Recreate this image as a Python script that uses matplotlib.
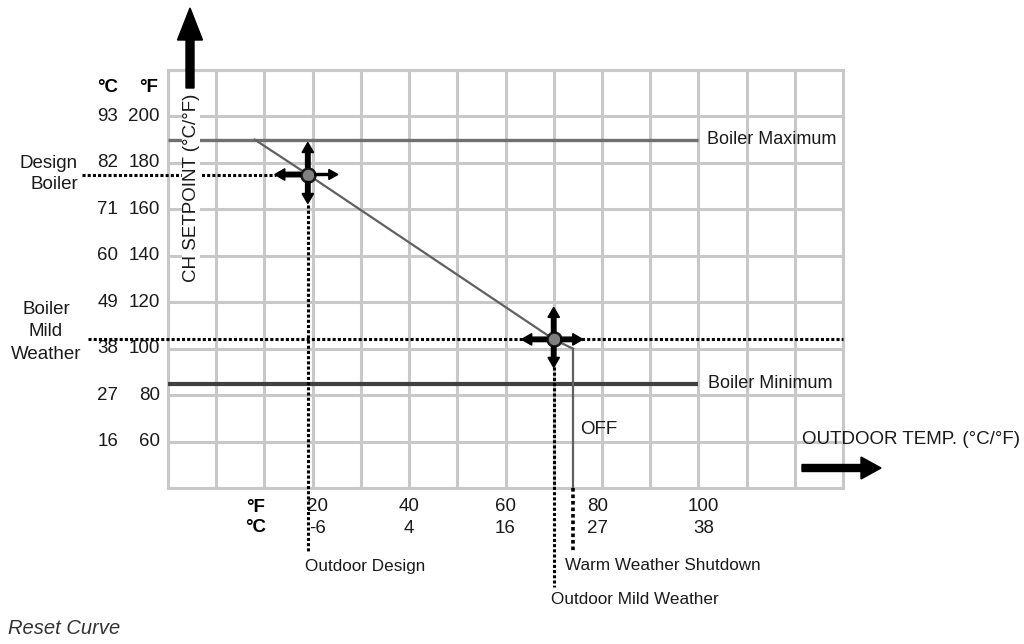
import matplotlib
matplotlib.use('Agg')
import matplotlib.pyplot as plt
from matplotlib.patches import FancyArrow
from matplotlib.transforms import IdentityTransform, offset_copy

plt.rcParams['font.family'] = ['Liberation Sans Narrow', 'Liberation Sans', 'DejaVu Sans']

# ---------------- data ----------------
x_ticks_f = [20, 40, 60, 80, 100]
x_ticks_c = [-6, 4, 16, 27, 38]
y_ticks_f = [60, 80, 100, 120, 140, 160, 180, 200]
y_ticks_c = [16, 27, 38, 49, 60, 71, 82, 93]
x_limits = [-10, 130]
y_limits = [40, 220]
boiler_max = 190
boiler_min = 85
limit_line_end = 100
curve_x = [8, 19, 70, 74]
curve_y = [190, 175, 104, 100]
design_point = (19, 175)
mild_point = (70, 104)
shutdown_x = 74
shutdown_y = 100

# layout-only nudges of the x tick labels (pixels)
x_label_nudge = [5, 0, 0, -4, 5]

W, H = 1024, 644
fig = plt.figure(figsize=(W / 100, H / 100), dpi=100)
ax = fig.add_axes([168 / W, 1 - 488 / H, 675 / W, 418 / H])
ax.set_xlim(x_limits)
ax.set_ylim(y_limits)
ax.set_xticks(range(x_limits[0], x_limits[1] + 1, 10))
ax.set_yticks(range(y_limits[0], y_limits[1] + 1, 20))
ax.tick_params(length=0, labelbottom=False, labelleft=False)
GRID = '#c8c8c8'
ax.grid(True, color=GRID, lw=2.2)
ax.set_axisbelow(True)
for s in ax.spines.values():
    s.set_color(GRID)
    s.set_linewidth(2.2)

FS = 13.5
TXT = '#1a1a1a'


def fx(px):
    return px / W


def fy(py):
    return 1 - py / H


# ---------------- lines ----------------
ax.plot([x_limits[0], limit_line_end], [boiler_max, boiler_max], color='#707070', lw=2.4,
        solid_capstyle='butt', zorder=3)
ax.plot([x_limits[0], limit_line_end], [boiler_min, boiler_min], color='#404040', lw=3.0,
        solid_capstyle='butt', zorder=3)
ax.plot(curve_x, curve_y, color='#606060', lw=1.6, zorder=3)
ax.plot([shutdown_x, shutdown_x], [shutdown_y, y_limits[0]], color='#606060', lw=1.6, zorder=3)
ax.plot([shutdown_x, shutdown_x], [y_limits[0], 13], color='black', lw=2.6, ls=(0, (1, 0.8)),
        clip_on=False, zorder=3)

dot = dict(color='black', lw=2.2, ls=(0, (1, 0.7)), clip_on=False, zorder=4)
ax.plot([-27.8, design_point[0] - 6.5], [design_point[1], design_point[1]], **dot)
ax.plot([design_point[0], design_point[0]], [design_point[1] - 13, 12.3], **dot)
ax.plot([-26.6, x_limits[1]], [mild_point[1], mild_point[1]], **dot)
ax.plot([mild_point[0], mild_point[0]], [mild_point[1] - 12, -2.8], **dot)

for p in (design_point, mild_point):
    ax.plot(*p, 'o', ms=10, mfc='#808080', mec='#1a1a1a', mew=1.8, zorder=7, clip_on=False)

# ---------------- small arrows (start at the circle edge) ----------------
fig.canvas.draw()
ID = IdentityTransform()
R = 7


def arrows(pt, up, down, left, right, thin_right=False):
    X, Y = ax.transData.transform(pt)
    kw = dict(width=4.5, head_width=11.5, head_length=10, length_includes_head=True,
              color='black', transform=ID, zorder=6)
    fig.add_artist(FancyArrow(X, Y + R, 0, up - R, **kw))
    fig.add_artist(FancyArrow(X, Y - R, 0, -(down - R), **kw))
    fig.add_artist(FancyArrow(X - R, Y, -(left - R), 0, **kw))
    if thin_right:
        fig.add_artist(FancyArrow(X + R, Y, right - R, 0, width=2, head_width=10, head_length=9,
                                  length_includes_head=True, color='black', transform=ID, zorder=6))
    else:
        fig.add_artist(FancyArrow(X + R, Y, right - R, 0, **kw))


arrows(design_point, 32, 29, 33, 30, thin_right=True)
arrows(mild_point, 32, 28, 32, 29)

fig.add_artist(FancyArrow(190, H - 88, 0, 80, width=8, head_width=25, head_length=32,
                          length_includes_head=True, color='black', transform=ID))
fig.add_artist(FancyArrow(802, H - 468, 79, 0, width=7, head_width=22, head_length=20,
                          length_includes_head=True, color='black', transform=ID))

# ---------------- tick labels ----------------
ytr = ax.get_yaxis_transform()
for f, c in zip(y_ticks_f, y_ticks_c):
    ax.text(-0.012, f, str(f), transform=ytr, ha='right', va='center', fontsize=FS, color=TXT)
    ax.text(-0.074, f, str(c), transform=ytr, ha='right', va='center', fontsize=FS, color=TXT)
fig.text(fx(108), fy(87), '°C', ha='center', va='center', fontsize=FS, fontweight='bold')
fig.text(fx(149), fy(87), '°F', ha='center', va='center', fontsize=FS, fontweight='bold')

xtr = ax.get_xaxis_transform()
for f, c, n in zip(x_ticks_f, x_ticks_c, x_label_nudge):
    tr = offset_copy(xtr, fig=fig, x=n, y=0, units='dots')
    ax.text(f, -0.045, str(f), transform=tr, ha='center', va='center', fontsize=FS, color=TXT)
    ax.text(f, -0.096, str(c), transform=tr, ha='center', va='center', fontsize=FS, color=TXT)
fig.text(fx(256), fy(507), '°F', ha='center', va='center', fontsize=FS, fontweight='bold')
fig.text(fx(256), fy(527), '°C', ha='center', va='center', fontsize=FS, fontweight='bold')

# ---------------- annotations ----------------
fig.text(fx(191), fy(188), 'CH SETPOINT (°C/°F)', rotation=90, ha='center', va='center',
         fontsize=FS, color=TXT, bbox=dict(fc='white', ec='none', pad=0.5), zorder=5)
fig.text(fx(707), fy(139), 'Boiler Maximum', ha='left', va='center', fontsize=FS - 0.5, color=TXT)
fig.text(fx(708), fy(383), 'Boiler Minimum', ha='left', va='center', fontsize=FS - 0.5, color=TXT)
fig.text(fx(580), fy(430), 'OFF', ha='left', va='center', fontsize=FS, color=TXT)
fig.text(fx(802), fy(440), 'OUTDOOR TEMP. (°C/°F)', ha='left', va='center', fontsize=FS, color=TXT)
fig.text(fx(78), fy(174), 'Design\nBoiler', ha='right', va='center', multialignment='right',
         fontsize=FS, color=TXT, linespacing=1.3)
fig.text(fx(46), fy(332), 'Boiler\nMild\nWeather', ha='center', va='center', multialignment='center',
         fontsize=FS, color=TXT, linespacing=1.4)
fig.text(fx(305), fy(566), 'Outdoor Design', ha='left', va='center', fontsize=12.3, color=TXT)
fig.text(fx(565), fy(566), 'Warm Weather Shutdown', ha='left', va='center', fontsize=12.3, color=TXT)
fig.text(fx(551), fy(600), 'Outdoor Mild Weather', ha='left', va='center', fontsize=12.3, color=TXT)
fig.text(fx(8), fy(628), 'Reset Curve', ha='left', va='center', fontsize=14.5,
         fontstyle='italic', family=['Liberation Sans', 'DejaVu Sans'], color='#333333')

fig.savefig('out.png', dpi=100)
